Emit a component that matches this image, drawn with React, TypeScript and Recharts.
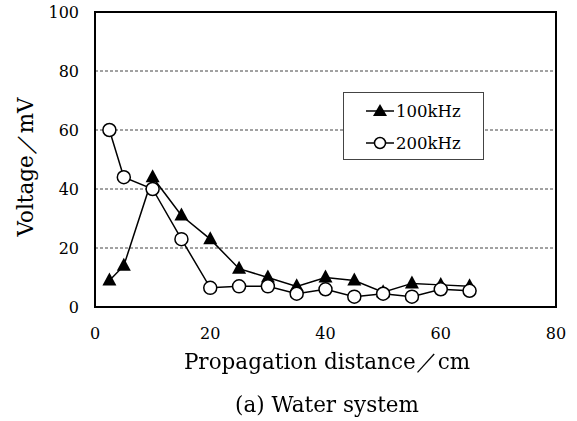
import { ComposedChart, Line, XAxis, YAxis, CartesianGrid, ReferenceArea } from 'recharts'

// propagation distance (cm)
const distances = [2.5, 5, 10, 15, 20, 25, 30, 35, 40, 45, 50, 55, 60, 65]
// voltage (mV)
const v100k = [9, 14, 44, 31, 23, 13, 10, 7, 10, 9, 5, 8, 7.5, 7]
const v200k = [60, 44, 40, 23, 6.5, 7, 7, 4.5, 6, 3.5, 4.5, 3.5, 6, 5.5]
const xTicks = [0, 20, 40, 60, 80]
const yTicks = [0, 20, 40, 60, 80, 100]

const data = distances.map((d, i) => ({ d, a: v100k[i], b: v200k[i] }))

const FONT = '"DejaVu Serif", serif'

const Tri = (p: any) => {
  const { cx, cy, index } = p
  if (cx == null || cy == null) return <g key={index} />
  return <polygon key={index} points={`${cx},${cy - 8} ${cx - 7},${cy + 5} ${cx + 7},${cy + 5}`} fill="#000" />
}

const Circ = (p: any) => {
  const { cx, cy, index } = p
  if (cx == null || cy == null) return <g key={index} />
  return <circle key={index} cx={cx} cy={cy} r={6.5} fill="#fff" stroke="#000" strokeWidth={1.5} />
}

const LegendBox = () => (
  <div
    style={{
      position: 'absolute', left: 343, top: 92, width: 141, height: 68,
      border: '1.5px solid #444', boxSizing: 'border-box', background: '#fff',
      fontFamily: FONT, fontSize: 16.5, color: '#000', paddingTop: 2,
    }}
  >
    <div style={{ display: 'flex', alignItems: 'center', height: 32, paddingLeft: 22 }}>
      <svg width={28} height={16}>
        <line x1={0} y1={8} x2={28} y2={8} stroke="#000" strokeWidth={1.5} />
        <polygon points="14,1 7,13 21,13" fill="#000" />
      </svg>
      <span style={{ marginLeft: 2 }}>100kHz</span>
    </div>
    <div style={{ display: 'flex', alignItems: 'center', height: 32, paddingLeft: 22 }}>
      <svg width={28} height={16}>
        <line x1={0} y1={8} x2={28} y2={8} stroke="#000" strokeWidth={1.5} />
        <circle cx={14} cy={8} r={5.5} fill="#fff" stroke="#000" strokeWidth={1.5} />
      </svg>
      <span style={{ marginLeft: 2 }}>200kHz</span>
    </div>
  </div>
)

export default function App() {
  return (
    <div style={{ position: 'fixed', left: 0, top: 0, width: 577, height: 421, background: '#fff' }}>
      <ComposedChart width={577} height={421} data={data} margin={{ top: 12, right: 21, bottom: 84, left: 50 }}>
        <CartesianGrid horizontal vertical={false} stroke="#444" strokeDasharray="3 2" />
        <XAxis
          type="number"
          dataKey="d"
          domain={[0, 80]}
          ticks={xTicks}
          height={30}
          tickLine={false}
          axisLine={false}
          tickSize={0}
          tickMargin={21}
          tick={{ fontFamily: FONT, fontSize: 16, fill: '#000' }}
        />
        <YAxis
          type="number"
          domain={[0, 100]}
          ticks={yTicks}
          width={45}
          tickLine={false}
          axisLine={false}
          tickSize={0}
          tickMargin={16}
          tick={{ fontFamily: FONT, fontSize: 16, fill: '#000' }}
        />
        <ReferenceArea x1={0} x2={80} y1={0} y2={100} fill="none" stroke="#000" strokeWidth={2} />
        <Line dataKey="a" stroke="#000" strokeWidth={1.5} dot={Tri} activeDot={false} isAnimationActive={false} />
        <Line dataKey="b" stroke="#000" strokeWidth={1.5} dot={Circ} activeDot={false} isAnimationActive={false} />
      </ComposedChart>
      <LegendBox />
      <div style={{ position: 'absolute', left: 0, width: 654, top: 348, textAlign: 'center', fontFamily: FONT, fontSize: 21.5, lineHeight: '28px' }}>
        Propagation distance／cm
      </div>
      <div style={{ position: 'absolute', left: 0, width: 654, top: 391, textAlign: 'center', fontFamily: FONT, fontSize: 21.5, lineHeight: '28px' }}>
        (a) Water system
      </div>
      <div style={{ position: 'absolute', left: 25, top: 167, width: 0, height: 0 }}>
        <div style={{ position: 'absolute', transform: 'translate(-50%, -50%) rotate(-90deg)', whiteSpace: 'nowrap', fontFamily: FONT, fontSize: 21.5 }}>
          Voltage／mV
        </div>
      </div>
    </div>
  )
}
